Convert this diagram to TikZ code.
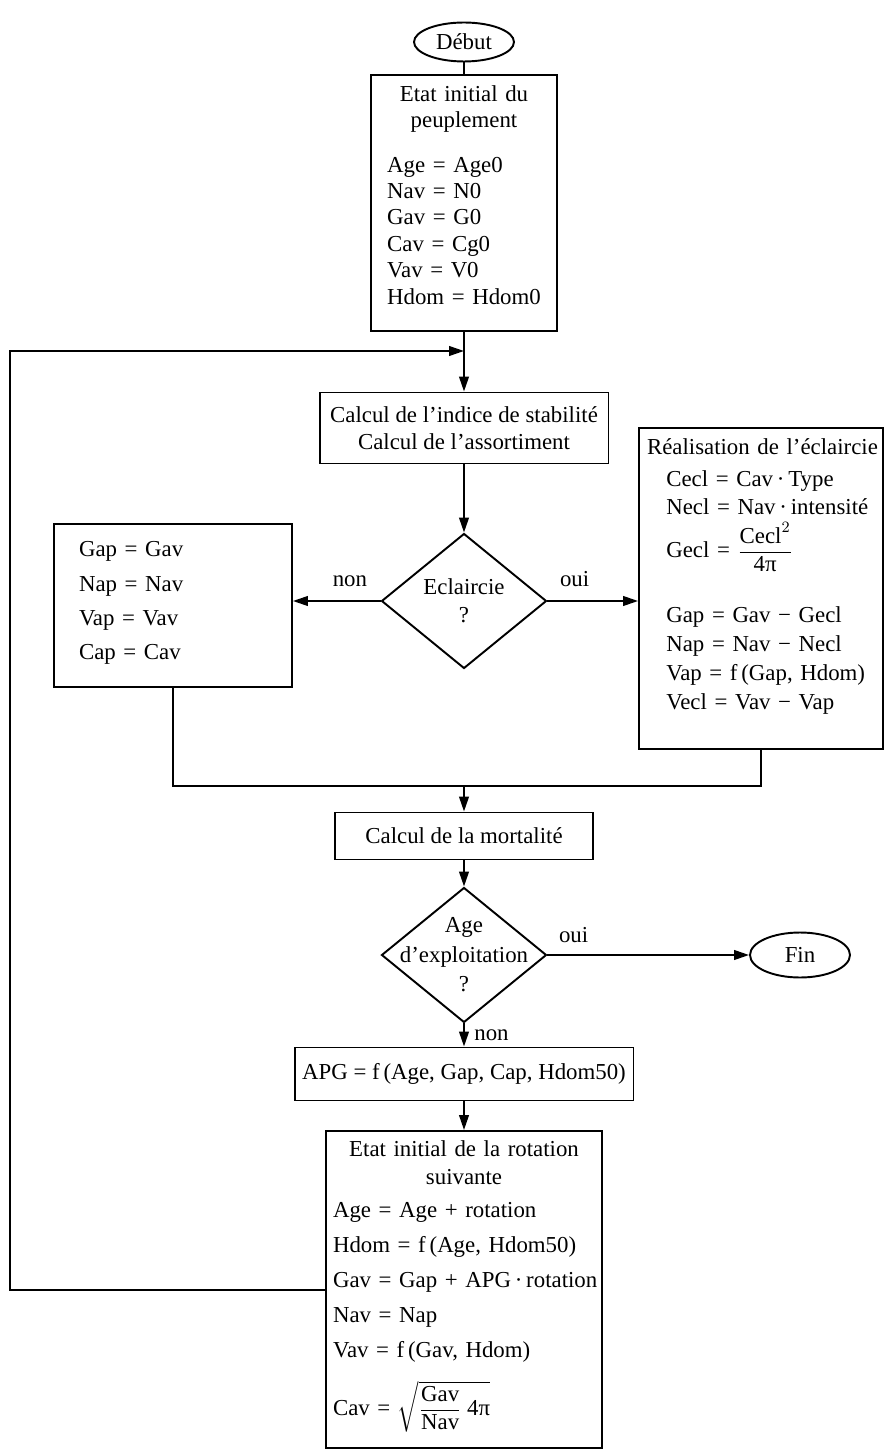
\documentclass[tikz,border=0pt]{standalone}
\usepackage{amsmath}
\usepackage{fontspec}
\setmainfont{Liberation Serif}
\usetikzlibrary{shapes.geometric,arrows.meta}

\begin{document}
\begin{tikzpicture}[
    x=0.02cm,
    y=-0.02cm,
    every node/.style={font=\fontsize{13}{15}\selectfont},
    terminal/.style={
        ellipse,
        draw,
        line width=1.1pt,
        inner sep=0pt,
        minimum width=2cm
    },
    bloc/.style={
        rectangle,
        draw,
        line width=1.1pt,
        inner sep=0pt,
        align=center
    },
    liste/.style={
        rectangle,
        draw,
        line width=1.1pt,
        anchor=north
    },
    decision/.style={
        diamond,
        draw,
        line width=1.1pt,
        inner sep=0pt,
        minimum width=3.3cm,
        minimum height=2.7cm,
        align=center
    },
    edge/.style={line width=1.1pt},
    arrow/.style={edge,-{Triangle[length=8.5pt,width=5.5pt]}}
]

\useasboundingbox (0,0) rectangle (884,1452);

\node[terminal,minimum height=0.78cm] (debut) at (464,42) {Début};

\node[liste,text width=3.32cm,inner xsep=0.2cm,inner ysep=0.21cm,
      text depth=4.39cm,align=center] (etatinit) at (464,74)
    {Etat initial du\\peuplement\\[10.4pt]
     \begin{tabular}[t]{@{}l@{}}
     Age = Age0\\Nav = N0\\Gav = G0\\Cav = Cg0\\Vav = V0\\Hdom = Hdom0
     \end{tabular}};

\node[bloc,minimum width=5.78cm,minimum height=1.42cm] (stabilite) at (464,428)
    {Calcul de l’indice de stabilité\\Calcul de l’assortiment};

\node[decision] (eclaircie) at (464,601) {Eclaircie\\[1pt]?};

\node[liste,text width=3.76cm,inner xsep=0.5cm,inner ysep=0.29cm,
      text depth=2.31cm,align=left] (sans) at (173,523)
    {\begin{tabular}[t]{@{}l@{}}
     Gap = Gav\\[4.5pt]Nap = Nav\\[4.5pt]Vap = Vav\\[4.5pt]Cap = Cav
     \end{tabular}};

\node[liste,text width=4.56cm,inner xsep=0.16cm,inner ysep=0.17cm,
      text depth=5.71cm,align=left] (avec) at (761,427)
    {\begin{tabular}[t]{@{}l@{}}
     Réalisation de l’éclaircie\\[3.2pt]
     \hspace{11pt}Cecl = Cav\,·\,Type\\[0.9pt]
     \hspace{11pt}Necl = Nav\,·\,intensité\\
     \hspace{11pt}Gecl = $\dfrac{\text{Cecl}^{2}}{\text{4π}}$\\[22pt]
     \hspace{11pt}Gap = Gav − Gecl\\[1.5pt]
     \hspace{11pt}Nap = Nav − Necl\\[1.5pt]
     \hspace{11pt}Vap = f\,(Gap, Hdom)\\[1.5pt]
     \hspace{11pt}Vecl = Vav − Vap
     \end{tabular}};

\coordinate (jonction) at (464,786);

\node[bloc,minimum width=5.16cm,minimum height=0.94cm] (mortalite) at (464,836)
    {Calcul de la mortalité};

\node[decision] (exploitation) at (464,955) {};
\node[align=center] (exploitationtxt) at (exploitation)
    {Age\\[1.8pt]d’exploitation\\[1.8pt]?};

\node[terminal,minimum height=0.9cm] (fin) at (800,955) {Fin};

\node[bloc,minimum width=6.78cm,minimum height=1.06cm] (apg) at (464,1074)
    {APG = f\,(Age, Gap, Cap, Hdom50)};

\node[liste,text width=5.24cm,inner xsep=0.14cm,inner ysep=0.19cm,
      text depth=5.65cm,align=center] (rotation) at (464,1130)
    {Etat initial de la rotation\\[1pt]suivante\\[3.8pt]
     \begin{tabular}[t]{@{}l@{}}
     Age = Age + rotation\\[4.9pt]
     Hdom = f\,(Age, Hdom50)\\[4.9pt]
     Gav = Gap + APG\,·\,rotation\\[4.9pt]
     Nav = Nap\\[4.9pt]
     Vav = f\,(Gav, Hdom)\\[9pt]
     Cav = $\sqrt{\dfrac{\text{Gav}}{\text{Nav}}\;\text{4π}}$
     \end{tabular}};

\coordinate (retour) at (464,351);

\draw[edge] (debut) -- (etatinit);
\draw[arrow] (etatinit) -- (stabilite);
\draw[arrow] (stabilite) -- (eclaircie);
\draw[arrow] (eclaircie.west) -- node[above=4pt,pos=0.35] (non1) {non}
    (eclaircie.west -| sans.east);
\draw[arrow] (eclaircie.east) -- node[above=4pt,pos=0.3] (oui1) {oui}
    (eclaircie.east -| avec.west);
\draw[edge] (sans.south) |- (jonction) -| (avec.south);
\draw[arrow] (jonction) -- (mortalite);
\draw[arrow] (mortalite) -- (exploitation);
\draw[arrow] (exploitation) -- node[above=3pt,pos=0.13] (oui2) {oui} (fin);
\draw[arrow] (exploitation) -- node[right=2pt] (non2) {non} (apg);
\draw[arrow] (apg) -- (rotation);
\draw[arrow] (rotation.west) -- ++(-315,0) |- (retour);

\end{tikzpicture}
\end{document}
